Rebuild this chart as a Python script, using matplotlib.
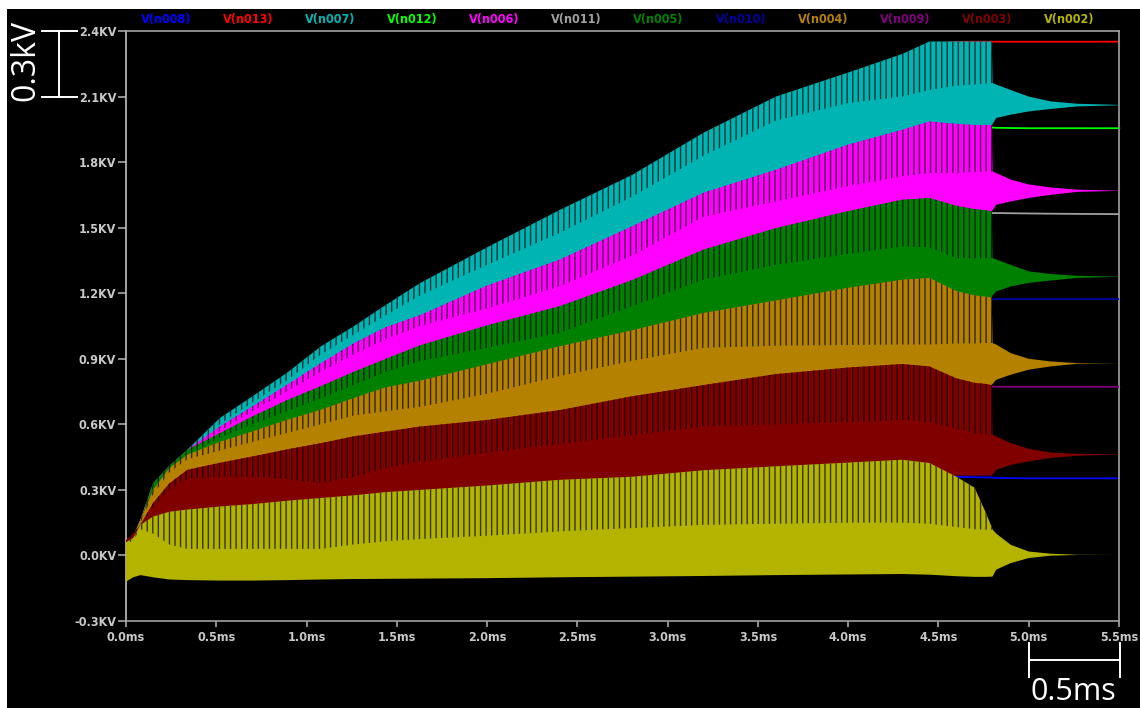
import matplotlib
matplotlib.use('Agg')
import matplotlib.pyplot as plt
from matplotlib.patches import Rectangle
from matplotlib.lines import Line2D
from matplotlib.ticker import FuncFormatter

plt.rcParams['hatch.linewidth'] = 1.0
FONT = ['DejaVu Sans']

# ---------------- data (ms, kV) ----------------
t = [0.0, 0.04, 0.08, 0.15, 0.24, 0.34, 0.52, 0.70, 0.89, 1.08, 1.26, 1.44, 1.63, 2.0, 2.4, 2.8,
     3.2, 3.6, 4.0, 4.3, 4.45, 4.6, 4.7, 4.76, 4.795, 4.80, 4.82, 4.9, 5.0, 5.12, 5.27, 5.5]

# AC column nodes: envelope top, lower edge of the striped part, envelope bottom
n007_hi = [0.06,0.09,0.163,0.33,0.41,0.484,0.629,0.728,0.835,0.957,1.048,1.147,1.247,1.41,1.58,1.74,1.935,2.10,2.21,2.295,2.352,2.352,2.352,2.352,2.352,2.162,2.155,2.13,2.10,2.078,2.067,2.062]
n007_mid = [0.05,0.08,0.15,0.31,0.39,0.46,0.60,0.70,0.80,0.92,1.01,1.10,1.19,1.33,1.475,1.64,1.83,1.99,2.07,2.10,2.13,2.15,2.155,2.16,2.162,2.162,2.155,2.13,2.10,2.078,2.067,2.062]
n007_lo = [0.0,0.0,0.05,0.2,0.3,0.4,0.55,0.65,0.74,0.83,0.91,0.98,1.04,1.12,1.22,1.36,1.54,1.61,1.68,1.73,1.74,1.74,1.74,1.74,1.965,1.975,2.002,2.017,2.032,2.043,2.055,2.06]

n006_hi = [0.06,0.09,0.163,0.33,0.41,0.484,0.59,0.682,0.78,0.88,0.97,1.045,1.10,1.235,1.353,1.505,1.66,1.765,1.88,1.948,1.986,1.975,1.97,1.97,1.97,1.757,1.75,1.72,1.698,1.684,1.674,1.669]
n006_mid = [0.05,0.08,0.15,0.31,0.39,0.46,0.57,0.66,0.75,0.84,0.92,0.99,1.05,1.13,1.231,1.37,1.55,1.62,1.69,1.735,1.75,1.75,1.755,1.757,1.757,1.757,1.75,1.72,1.698,1.684,1.674,1.669]
n006_lo = [0.0,0.0,0.05,0.2,0.3,0.4,0.5,0.58,0.64,0.70,0.76,0.82,0.87,0.93,1.0,1.12,1.24,1.31,1.36,1.40,1.40,1.575,1.575,1.575,1.575,1.58,1.605,1.62,1.636,1.65,1.664,1.668]

n005_hi = [0.06,0.09,0.163,0.33,0.41,0.484,0.56,0.636,0.71,0.775,0.84,0.90,0.962,1.053,1.14,1.259,1.40,1.498,1.576,1.628,1.636,1.60,1.585,1.58,1.575,1.361,1.355,1.33,1.30,1.288,1.28,1.276]
n005_mid = [0.05,0.08,0.15,0.31,0.39,0.46,0.54,0.60,0.66,0.72,0.78,0.84,0.89,0.95,1.018,1.14,1.262,1.33,1.38,1.414,1.41,1.36,1.36,1.36,1.361,1.361,1.355,1.33,1.30,1.288,1.28,1.276]
n005_lo = [0.0,0.0,0.05,0.2,0.3,0.4,0.45,0.5,0.53,0.56,0.6,0.63,0.66,0.72,0.80,0.87,0.93,0.95,0.96,0.965,0.965,1.18,1.18,1.18,1.18,1.19,1.208,1.231,1.247,1.258,1.27,1.275]

n004_hi = [0.06,0.09,0.163,0.30,0.40,0.461,0.52,0.568,0.62,0.667,0.72,0.77,0.80,0.875,0.957,1.03,1.11,1.167,1.225,1.262,1.27,1.21,1.19,1.185,1.18,0.972,0.965,0.926,0.90,0.888,0.88,0.879]
n004_mid = [0.05,0.08,0.15,0.28,0.38,0.44,0.48,0.52,0.56,0.60,0.64,0.66,0.68,0.74,0.82,0.89,0.95,0.96,0.963,0.965,0.965,0.97,0.97,0.972,0.972,0.972,0.965,0.926,0.90,0.888,0.88,0.879]
n004_lo = [0.0,0.0,0.05,0.15,0.25,0.3,0.35,0.36,0.36,0.36,0.37,0.40,0.43,0.47,0.51,0.55,0.59,0.60,0.61,0.62,0.61,0.78,0.78,0.78,0.78,0.785,0.804,0.827,0.85,0.865,0.877,0.879]

n003_hi = [0.07,0.10,0.14,0.24,0.33,0.392,0.424,0.453,0.485,0.514,0.545,0.567,0.59,0.62,0.665,0.728,0.78,0.83,0.86,0.876,0.865,0.81,0.79,0.785,0.78,0.552,0.545,0.514,0.488,0.471,0.465,0.463]
n003_mid = [0.06,0.09,0.13,0.22,0.30,0.35,0.36,0.36,0.35,0.33,0.36,0.40,0.43,0.47,0.51,0.55,0.59,0.60,0.61,0.62,0.61,0.58,0.56,0.555,0.552,0.552,0.545,0.514,0.488,0.471,0.465,0.463]
n003_lo = [0.0,0.0,0.05,0.1,0.12,0.13,0.14,0.15,0.16,0.17,0.18,0.19,0.2,0.21,0.22,0.23,0.24,0.25,0.26,0.27,0.3,0.365,0.365,0.365,0.365,0.37,0.392,0.414,0.43,0.446,0.456,0.462]

n002_hi = [0.06,0.08,0.14,0.178,0.20,0.21,0.224,0.235,0.25,0.263,0.275,0.29,0.30,0.32,0.346,0.36,0.39,0.408,0.425,0.438,0.423,0.36,0.31,0.20,0.13,0.118,0.10,0.049,0.018,0.008,0.003,0.002]
n002_mid = [0.05,0.07,0.12,0.10,0.05,0.03,0.03,0.03,0.03,0.03,0.05,0.065,0.075,0.09,0.11,0.125,0.14,0.145,0.15,0.15,0.145,0.13,0.12,0.118,0.118,0.118,0.10,0.049,0.018,0.008,0.003,0.002]
n002_lo = [-0.12,-0.10,-0.09,-0.10,-0.11,-0.113,-0.115,-0.115,-0.113,-0.11,-0.108,-0.107,-0.106,-0.104,-0.10,-0.097,-0.094,-0.09,-0.087,-0.085,-0.088,-0.095,-0.098,-0.098,-0.097,-0.096,-0.065,-0.035,-0.012,-0.001,0.002,0.002]

# DC column nodes
n013 = [0.05,0.08,0.15,0.31,0.39,0.47,0.61,0.71,0.82,0.94,1.03,1.13,1.23,1.39,1.56,1.72,1.92,2.08,2.19,2.28,2.34,2.35,2.351,2.351,2.351,2.351,2.351,2.351,2.351,2.351,2.351,2.351]
n012 = [0.05,0.08,0.15,0.31,0.39,0.47,0.58,0.67,0.77,0.87,0.96,1.035,1.09,1.225,1.343,1.495,1.65,1.755,1.87,1.938,1.975,1.965,1.962,1.961,1.96,1.958,1.957,1.956,1.955,1.955,1.955,1.955]
n011 = [0.05,0.08,0.15,0.31,0.39,0.47,0.55,0.626,0.70,0.765,0.83,0.89,0.952,1.043,1.13,1.249,1.39,1.488,1.566,1.618,1.62,1.575,1.57,1.568,1.567,1.567,1.567,1.566,1.565,1.564,1.563,1.562]
n010 = [0.05,0.08,0.15,0.29,0.39,0.45,0.51,0.558,0.61,0.657,0.71,0.76,0.79,0.865,0.947,1.02,1.10,1.157,1.215,1.252,1.26,1.19,1.176,1.174,1.173,1.173,1.173,1.173,1.173,1.173,1.173,1.173]
n009 = [0.06,0.09,0.13,0.23,0.32,0.382,0.414,0.443,0.475,0.504,0.535,0.557,0.58,0.61,0.655,0.718,0.77,0.82,0.85,0.866,0.855,0.79,0.776,0.774,0.773,0.773,0.772,0.772,0.772,0.772,0.772,0.772]
n008 = [0.05,0.07,0.13,0.17,0.19,0.20,0.214,0.225,0.24,0.253,0.265,0.28,0.29,0.31,0.336,0.35,0.38,0.398,0.415,0.428,0.413,0.36,0.358,0.357,0.357,0.356,0.355,0.354,0.353,0.353,0.353,0.353]

labels = ['V(n008)', 'V(n013)', 'V(n007)', 'V(n012)', 'V(n006)', 'V(n011)',
          'V(n005)', 'V(n010)', 'V(n004)', 'V(n009)', 'V(n003)', 'V(n002)']
colors = ['#0000ff', '#ff0000', '#00b4b4', '#00ff00', '#ff00ff', '#a0a0a0',
          '#008000', '#0000a0', '#b48200', '#800080', '#800000', '#b4b400']

y_ticks = [-0.3, 0.0, 0.3, 0.6, 0.9, 1.2, 1.5, 1.8, 2.1, 2.4]
x_ticks = [0.0, 0.5, 1.0, 1.5, 2.0, 2.5, 3.0, 3.5, 4.0, 4.5, 5.0, 5.5]

# ---------------- figure ----------------
W, H = 1140, 708
fig = plt.figure(figsize=(W / 100, H / 100), dpi=100, facecolor='white')
fig.patches.append(Rectangle((7 / W, 0), 1, 1 - 9 / H, transform=fig.transFigure,
                             facecolor='black', edgecolor='none', zorder=-10))
L, R, T_, B = 126, 1119, 31, 621
ax = fig.add_axes([L / W, 1 - B / H, (R - L) / W, (B - T_) / H])
ax.set_facecolor('black')


def dark(c, f=0.3):
    c = matplotlib.colors.to_rgb(c)
    return tuple(v * f for v in c)


series = [
    ('line', n008, 0), ('line', n013, 1), ('band', (n007_lo, n007_mid, n007_hi), 2),
    ('line', n012, 3), ('band', (n006_lo, n006_mid, n006_hi), 4), ('line', n011, 5),
    ('band', (n005_lo, n005_mid, n005_hi), 6), ('line', n010, 7),
    ('band', (n004_lo, n004_mid, n004_hi), 8), ('line', n009, 9),
    ('band', (n003_lo, n003_mid, n003_hi), 10), ('band', (n002_lo, n002_mid, n002_hi), 11),
]
z = 1
for kind, d, ci in series:
    c = colors[ci]
    if kind == 'line':
        ax.plot(t, d, color=c, lw=1.3, zorder=z)
        z += 1
    else:
        lo, mid, hi = d
        ax.fill_between(t, lo, hi, facecolor=c, edgecolor='none', lw=0, zorder=z)
        ax.fill_between(t, mid, hi, facecolor='none', edgecolor=dark(c), hatch='|||',
                        lw=0, zorder=z + 0.5)
        z += 1

ax.set_xlim(0, 5.5)
ax.set_ylim(-0.3, 2.4)
ax.set_xticks(x_ticks)
ax.set_yticks(y_ticks)
ax.xaxis.set_major_formatter(FuncFormatter(lambda v, p: f'{v:.1f}ms'))
ax.yaxis.set_major_formatter(FuncFormatter(lambda v, p: f'{v:.1f}KV'))
for s in ax.spines.values():
    s.set_color('#a0a0a0')
    s.set_linewidth(1.2)
ax.spines['left'].set_color('#c0c0c0')
ax.tick_params(axis='both', colors='#a8a8a8', labelcolor='#c8c8c8', width=1.2)
ax.tick_params(axis='y', length=6, pad=1)
ax.tick_params(axis='x', length=4.5, pad=3)
for lab in ax.get_xticklabels() + ax.get_yticklabels():
    lab.set_fontfamily(FONT)
    lab.set_fontweight('bold')
    lab.set_fontstretch('condensed')
    lab.set_fontsize(9)

# trace names
for i, (lab, c) in enumerate(zip(labels, colors)):
    fig.text((166 + 82.1 * i) / W, 1 - 20 / H, lab, color=c, ha='center', va='center',
             fontsize=9, fontweight='bold', fontstretch='condensed', family=FONT)


def P(x, y):
    return (x / W, 1 - y / H)


def fline(xs, ys, **kw):
    fig.lines.append(Line2D([x / W for x in xs], [1 - y / H for y in ys],
                            transform=fig.transFigure, color='white', lw=1.4, **kw))


# vertical scale bar (0.3 kV)
fline([59, 59], [31, 96.6])
fline([42, 77], [31, 31])
fline([42, 77], [96.6, 96.6])
fig.text(*P(26, 60), '0.3kV', rotation=90, color='white', ha='center', va='center',
         fontsize=23, family=['Open Sans', 'DejaVu Sans'])

# horizontal scale bar (0.5 ms)
fline([1028.5, 1028.5], [643, 677])
fline([1119.5, 1119.5], [643, 677])
fline([1028.5, 1119.5], [660, 660])
fig.text(*P(1073, 692), '0.5ms', color='white', ha='center', va='center',
         fontsize=22, family=['Open Sans', 'DejaVu Sans'])

fig.savefig('out.png', dpi=100, facecolor=fig.get_facecolor())
